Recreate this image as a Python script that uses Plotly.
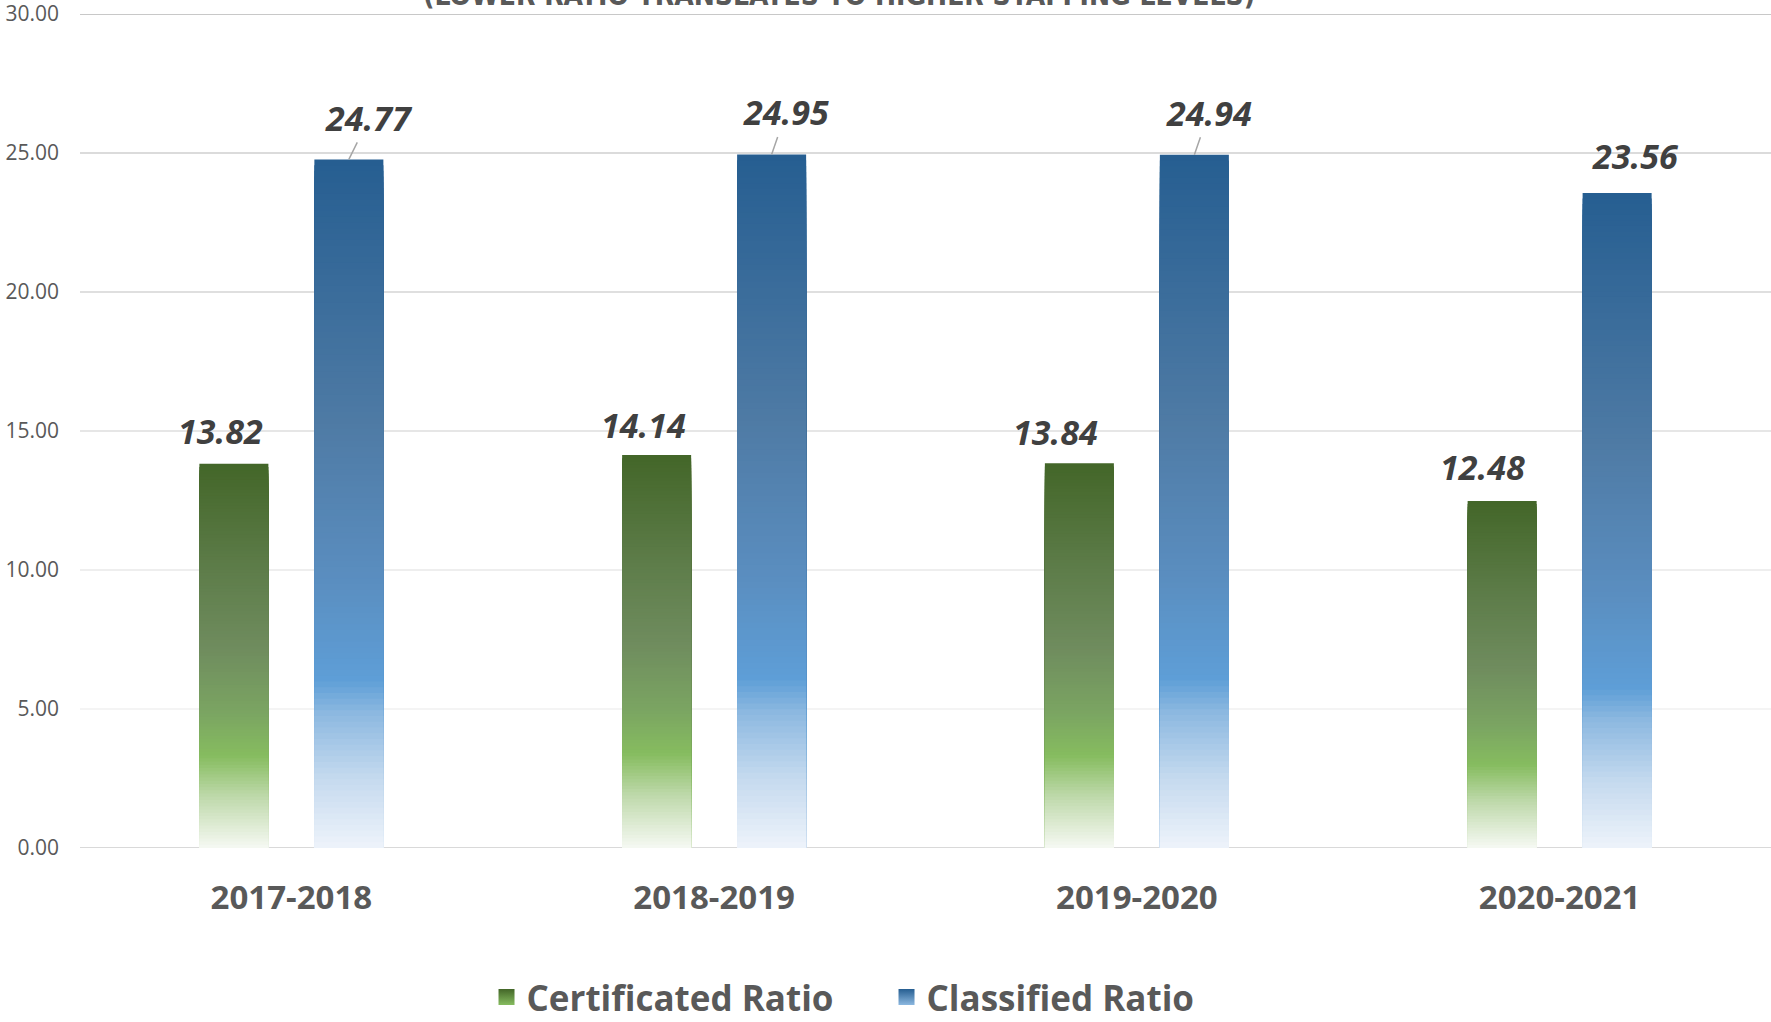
import plotly.graph_objects as go

# ---------------- data ----------------
categories = ["2017-2018", "2018-2019", "2019-2020", "2020-2021"]
certificated = [13.82, 14.14, 13.84, 12.48]
classified = [24.77, 24.95, 24.94, 23.56]
series_names = ["Certificated Ratio", "Classified Ratio"]
y_ticks = [0, 5, 10, 15, 20, 25, 30]
title_text = "(LOWER RATIO TRANSLATES TO HIGHER STAFFING LEVELS)"

# ---------------- styles ----------------
FONT = "Open Sans, Lato, sans-serif"
GRAY = "#595959"
LABEL = "#404040"
green_stops = [(0.0, "#F6F9F3"), (0.13, "#C0DAAD"), (0.24, "#86BC5F"), (0.35, "#7BA562"),
               (0.52, "#6F8C5E"), (0.72, "#5E7D4A"), (1.0, "#436628")]
blue_stops = [(0.0, "#EEF3FA"), (0.10, "#C5DAEF"), (0.196, "#8CB8E0"), (0.244, "#5E9ED7"),
              (0.40, "#5A8DBE"), (0.61, "#4F7BA5"), (1.0, "#265E91")]
grid_colors = ["#D9D9D9", "#F0F0F0", "#E8E8E8", "#DEDEDE", "#D5D5D5", "#CFCFCF", "#C8C8C8"]
grid_widths = [2, 1.5, 1.5, 1.5, 1.5, 1.5, 2]
BARGAP = 0.456
BARGROUPGAP = 0.4
SLICES = 120
green_dx = [-13, -13.5, -23.5, -19.5]
green_dy = [33, 30, 31, 34]
blue_dx = [20.5, 14.5, 14.5, 18.5]
blue_dy = [41.5, 42, 42, 37]
blue_leader = [True, True, True, False]


def hex2rgb(h):
    h = h.lstrip("#")
    return tuple(int(h[i:i + 2], 16) for i in (0, 2, 4))


def grad(stops, f):
    for (f0, c0), (f1, c1) in zip(stops[:-1], stops[1:]):
        if f0 <= f <= f1:
            t = (f - f0) / (f1 - f0) if f1 > f0 else 0
            a, b = hex2rgb(c0), hex2rgb(c1)
            return "rgb(%d,%d,%d)" % tuple(round(a[i] + (b[i] - a[i]) * t) for i in range(3))
    return stops[-1][1]


fig = go.Figure()

for name, vals, stops, grp in [(series_names[0], certificated, green_stops, "g"),
                               (series_names[1], classified, blue_stops, "b")]:
    for k in range(SLICES, 0, -1):
        frac = k / SLICES
        fig.add_trace(go.Bar(
            x=categories, y=[v * frac for v in vals], offsetgroup=grp,
            marker=dict(color=grad(stops, (k - 0.5) / SLICES), line=dict(width=0)),
            showlegend=False, hoverinfo="skip", name=name))
    # legend entry
    fig.add_trace(go.Scatter(
        x=[None], y=[None], mode="markers", name=name,
        marker=dict(symbol="square", size=16, color=stops[-1][1],
                    gradient=dict(type="vertical", color=stops[2][1]))))

# gridlines
shapes = []
for t, c, w in zip(y_ticks, grid_colors, grid_widths):
    shapes.append(dict(type="line", xref="paper", x0=0, x1=1, yref="y", y0=t, y1=t,
                       line=dict(color=c, width=w), layer="below"))

offset = (1 - BARGAP) / 4
lab_font = dict(family=FONT, size=34, color=LABEL, weight="bold", style="italic")
ann = []
for i, v in enumerate(certificated):
    ann.append(dict(x=i - offset, y=v, xref="x", yref="y", text=f"{v:.2f}", showarrow=False,
                    xshift=green_dx[i], yshift=green_dy[i], font=lab_font))
for i, v in enumerate(classified):
    if blue_leader[i]:
        ann.append(dict(x=i + offset, y=v, xref="x", yref="y", text=f"{v:.2f}", showarrow=True,
                        arrowhead=0, arrowwidth=1.5, arrowcolor="#A6A6A6",
                        ax=blue_dx[i], ay=-blue_dy[i], standoff=0, font=lab_font))
    else:
        ann.append(dict(x=i + offset, y=v, xref="x", yref="y", text=f"{v:.2f}", showarrow=False,
                        xshift=blue_dx[i], yshift=blue_dy[i], font=lab_font))

ann.append(dict(x=0.449, y=1, xref="paper", yref="paper", xanchor="center", yanchor="bottom",
                yshift=0, text="<b>" + title_text + "</b>", showarrow=False,
                font=dict(family="Liberation Sans Narrow, DejaVu Sans Condensed, sans-serif",
                          size=28, color=GRAY)))

fig.update_layout(
    width=1771, height=1022,
    margin=dict(l=80, r=0, t=14, b=174, autoexpand=False),
    paper_bgcolor="white", plot_bgcolor="white",
    barmode="group", bargap=BARGAP, bargroupgap=BARGROUPGAP,
    shapes=shapes, annotations=ann,
    showlegend=True,
    legend=dict(orientation="h", x=0.2404, xanchor="left", y=-0.179, yanchor="middle",
                entrywidth=355, font=dict(family=FONT, size=35, color=GRAY, weight="bold"),
                itemclick=False),
    xaxis=dict(type="category", showgrid=False, zeroline=False, showline=False,
               ticks="", ticklabelstandoff=27, automargin=False,
               tickfont=dict(family=FONT, size=33, color=GRAY, weight="bold")),
    yaxis=dict(range=[0, 30], tickvals=y_ticks, tickformat=".2f", showgrid=False,
               zeroline=False, showline=False, ticks="", ticklabelstandoff=20,
               automargin=False, ticklabeloverflow="allow",
               tickfont=dict(family=FONT, size=21, color=GRAY)),
    hovermode=False,
)

fig.write_html("out.html", config={"displayModeBar": False},
               post_script="document.body.style.margin='0';document.body.style.overflow='hidden';")
